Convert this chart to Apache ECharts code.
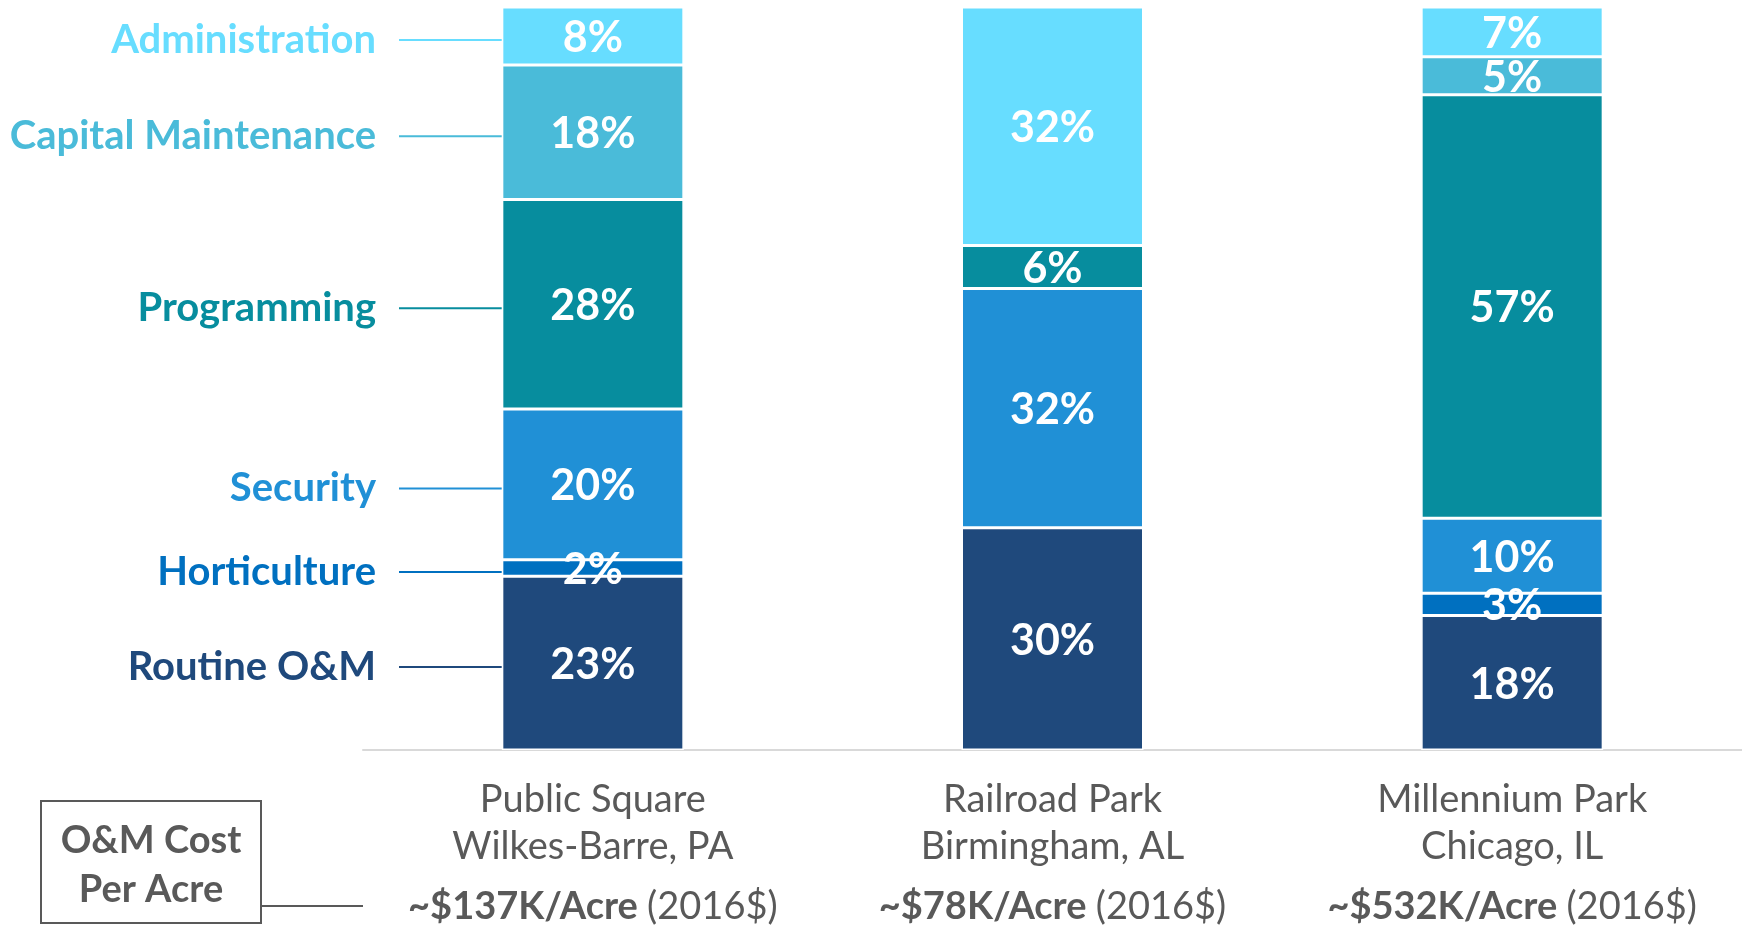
<!DOCTYPE html>
<html>
<head>
<meta charset="utf-8">
<script src="https://cdn.jsdelivr.net/npm/echarts@6/dist/echarts.min.js"></script>
<style>
  html, body { margin: 0; padding: 0; background: #fff; }
  #main { width: 1742px; height: 926px; }
</style>
</head>
<body>
<div id="main"></div>
<script>
// parks along the x axis
var parks = ["Public Square", "Railroad Park", "Millennium Park"];
var cities = ["Wilkes-Barre, PA", "Birmingham, AL", "Chicago, IL"];
var costs = ["~$137K/Acre", "~$78K/Acre", "~$532K/Acre"];
var costNote = "(2016$)";

// cost categories, bottom of the stack first
var categories = ["Routine O&M", "Horticulture", "Security", "Programming", "Capital Maintenance", "Administration"];
var colors = ["#1F497C", "#0070C0", "#2090D6", "#078D9E", "#4ABBD9", "#67DDFF"];

// share of O&M cost (%)
var routine = [23.4, 29.9, 18.1];
var horticulture = [2.2, null, 3.0];
var security = [20.3, 32.2, 10.1];
var programming = [28.2, 5.8, 57.0];
var capital = [18.1, null, 5.1];
var administration = [7.8, 32.1, 6.7];
var values = [routine, horticulture, security, programming, capital, administration];

var FONT = "Lato";
var GREY = "#595959";
var BAR_W = 182;

var chart = echarts.init(document.getElementById("main"));

var series = categories.map(function (name, i) {
  return {
    name: name,
    type: "bar",
    stack: "total",
    barWidth: BAR_W,
    data: values[i],
    itemStyle: { color: colors[i], borderColor: "#fff", borderWidth: 1.5 },
    label: {
      show: true,
      position: "inside",
      offset: [0, 2],
      color: "#fff",
      fontFamily: FONT,
      fontWeight: "bold",
      fontSize: 43,
      formatter: function (p) { return Math.round(p.value) + "%"; }
    },
    emphasis: { disabled: true }
  };
});

var option = {
  animation: false,
  grid: { left: 363, right: 0, top: 7, bottom: 174, containLabel: false },
  xAxis: {
    type: "category",
    data: parks,
    axisLine: { lineStyle: { color: "#D9D9D9", width: 2 } },
    axisTick: { show: false },
    axisLabel: {
      margin: 26,
      interval: 0,
      formatter: function (v, idx) {
        return "{a|" + v + "}\n{a|" + cities[idx] + "}\n{b|" + costs[idx] + " }{c|" + costNote + "}";
      },
      rich: {
        a: { fontFamily: FONT, fontSize: 38, color: GREY, lineHeight: 47 },
        b: { fontFamily: FONT, fontSize: 38, color: GREY, fontWeight: "bold", lineHeight: 74 },
        c: { fontFamily: FONT, fontSize: 38, color: GREY, lineHeight: 74 }
      }
    }
  },
  yAxis: { type: "value", min: 0, max: 100, show: false },
  series: series
};

chart.setOption(option);

// category labels with leader lines next to the first bar
function drawLabels() {
  var elements = [];
  var cx = chart.convertToPixel({ xAxisIndex: 0 }, 0);
  var barLeft = cx - BAR_W / 2;
  var base = 0;
  categories.forEach(function (name, i) {
    var v = values[i][0] || 0;
    var y = chart.convertToPixel({ yAxisIndex: 0 }, base + v / 2) + 4;
    base += v;
    elements.push({
      type: "text",
      style: {
        text: name, x: 376, y: y, align: "right", verticalAlign: "middle",
        fill: colors[i], font: "bold 40px " + FONT
      }
    });
    elements.push({
      type: "line",
      shape: { x1: 399, y1: y, x2: barLeft, y2: y },
      style: { stroke: colors[i], lineWidth: 2 }
    });
  });
  // "O&M Cost Per Acre" box
  elements.push({
    type: "rect",
    shape: { x: 41, y: 801, width: 220, height: 122 },
    style: { fill: null, stroke: GREY, lineWidth: 2 }
  });
  elements.push({
    type: "text",
    style: {
      text: "O&M Cost\nPer Acre", x: 151, y: 865, align: "center", verticalAlign: "middle",
      fill: GREY, font: "bold 38px " + FONT, lineHeight: 49
    }
  });
  elements.push({
    type: "line",
    shape: { x1: 261, y1: 906, x2: 363, y2: 906 },
    style: { stroke: GREY, lineWidth: 2 }
  });
  chart.setOption({ graphic: { elements: elements } });
}
drawLabels();
window.addEventListener("resize", chart.resize);
</script>
</body>
</html>
